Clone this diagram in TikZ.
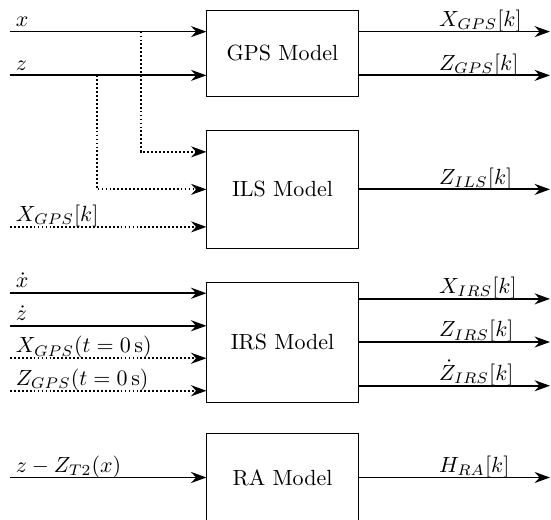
\documentclass[tikz,border=0pt]{standalone}
\usepackage{amsmath,amssymb,amsfonts}
\usepackage{xcolor}
\usepackage{tikz}
\usetikzlibrary{arrows.meta,positioning}

\begin{document}
\begin{tikzpicture}[
        model/.style={draw, minimum width=2.42cm, inner sep=0pt},
        sig/.style={-{Stealth[length=7pt,width=5pt]}, thick},
        tap/.style={sig, densely dotted},
        lbl/.style={anchor=base west, inner sep=0pt, xshift=2.3pt, yshift=2.4pt}
    ]
        \useasboundingbox (0,0) rectangle (8.816,-8.32);
        % Bloques de los modelos de sensores
        \node[model, minimum height=1.39cm] (gps) at (4.52,-0.856) {GPS Model};
        \node[model, minimum height=1.90cm] (ils) at (4.52,-3.03) {ILS Model};
        \node[model, minimum height=1.92cm] (irs) at (4.52,-5.472) {IRS Model};
        \node[model, minimum height=1.42cm] (ra) at (4.52,-7.64) {RA Model};
        
        % Columnas de entrada y salida
        \coordinate (in) at (0.16,0);
        \coordinate (out) at (8.8,0);
        
        % Puertos de cada bloque
        \coordinate (g1) at ([yshift=0.35cm]gps.west);
        \coordinate (g2) at ([yshift=-0.35cm]gps.west);
        \coordinate (i1) at ([yshift=0.6cm]ils.west);
        \coordinate (i2) at (ils.west);
        \coordinate (i3) at ([yshift=-0.6cm]ils.west);
        \coordinate (r1) at ([yshift=0.78cm]irs.west);
        \coordinate (r2) at ([yshift=0.26cm]irs.west);
        \coordinate (r3) at ([yshift=-0.26cm]irs.west);
        \coordinate (r4) at ([yshift=-0.78cm]irs.west);
        \coordinate (ro1) at ([yshift=0.69cm]irs.east);
        \coordinate (ro2) at (irs.east);
        \coordinate (ro3) at ([yshift=-0.7cm]irs.east);
        
        % GPS
        \draw[sig] (in |- g1) -- (g1) node[lbl, pos=0] {$x$};
        \draw[sig] (in |- g2) -- (g2) node[lbl, pos=0] {$z$};
        \draw[sig] (g1 -| gps.east) -- (g1 -| out) node[lbl, pos=0.39] {$X_{GPS}[k]$};
        \draw[sig] (g2 -| gps.east) -- (g2 -| out) node[lbl, pos=0.39] {$Z_{GPS}[k]$};
        
        % ILS
        \coordinate (x tap) at (g1 -| 2.256,0);
        \coordinate (z tap) at (g2 -| 1.552,0);
        \draw[tap] (x tap) |- (i1);
        \draw[tap] (z tap) |- (i2);
        \draw[tap] (in |- i3) -- (i3) node[lbl, pos=0] {$X_{GPS}[k]$};
        \draw[sig] (ils.east) -- (ils.east -| out) node[lbl, pos=0.39] {$Z_{ILS}[k]$};
        
        % IRS
        \draw[sig] (in |- r1) -- (r1) node[lbl, pos=0] {$\dot{x}$};
        \draw[sig] (in |- r2) -- (r2) node[lbl, pos=0] {$\dot{z}$};
        \draw[tap] (in |- r3) -- (r3) node[lbl, pos=0] {$X_{GPS}(t=0\,\mathrm{s})$};
        \draw[tap] (in |- r4) -- (r4) node[lbl, pos=0] {$Z_{GPS}(t=0\,\mathrm{s})$};
        \draw[sig] (ro1) -- (ro1 -| out) node[lbl, pos=0.39] {$X_{IRS}[k]$};
        \draw[sig] (ro2) -- (ro2 -| out) node[lbl, pos=0.39] {$Z_{IRS}[k]$};
        \draw[sig] (ro3) -- (ro3 -| out) node[lbl, pos=0.39] {$\dot{Z}_{IRS}[k]$};
        
        % RA
        \draw[sig] (in |- ra.west) -- (ra.west) node[lbl, pos=0] {$z-Z_{T2}(x)$};
        \draw[sig] (ra.east) -- (ra.east -| out) node[lbl, pos=0.39] {$H_{RA}[k]$};
    \end{tikzpicture}
\end{document}
